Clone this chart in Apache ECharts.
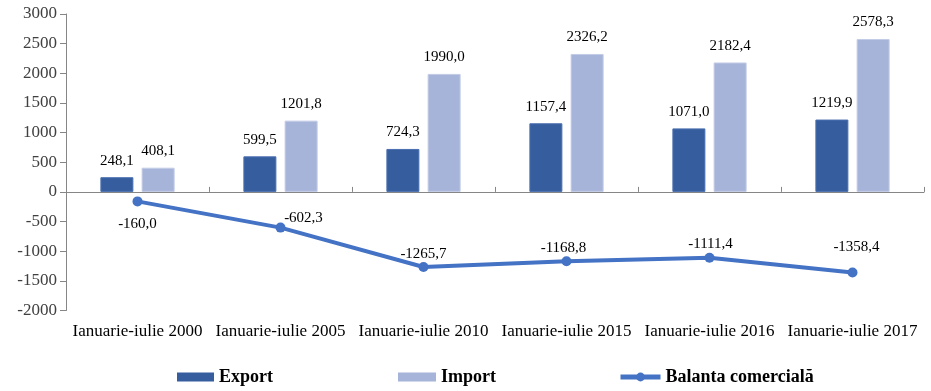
<!DOCTYPE html>
<html>
<head>
<meta charset="utf-8">
<script src="https://cdn.jsdelivr.net/npm/echarts@6/dist/echarts.min.js"></script>
<style>html,body{margin:0;padding:0;background:#fff}#c{width:931px;height:391px}</style>
</head>
<body>
<div id="c"></div>
<script>
var categories = ["Ianuarie-iulie 2000","Ianuarie-iulie 2005","Ianuarie-iulie 2010","Ianuarie-iulie 2015","Ianuarie-iulie 2016","Ianuarie-iulie 2017"];
var exportValues = [248.1, 599.5, 724.3, 1157.4, 1071.0, 1219.9];
var importValues = [408.1, 1201.8, 1990.0, 2326.2, 2182.4, 2578.3];
var balantaValues = [-160.0, -602.3, -1265.7, -1168.8, -1111.4, -1358.4];
var seriesNames = ["Export", "Import", "Balanta comercială"];

var FONT = '"Liberation Serif", "Times New Roman", serif';
function fmt(v){ return v.toFixed(1).replace('.', ','); }

// label placement for the line points (style only)
var lineLabelCfg = [
  {position:'bottom', distance:10, offset:[0,0]},
  {position:'top', distance:-3, offset:[23,0]},
  {position:'top', distance:0, offset:[0,0]},
  {position:'top', distance:1, offset:[-3,0]},
  {position:'top', distance:1, offset:[1,0]},
  {position:'top', distance:13, offset:[4,0]}
];

var legendText = {fontSize:18, fontWeight:'bold', color:'#000', fontFamily:FONT};

var chart = echarts.init(document.getElementById('c'), null, {renderer:'canvas'});
var option = {
  animation:false,
  textStyle:{fontFamily:FONT},
  grid:{left:66, right:7, top:14, bottom:80.5, containLabel:false},
  xAxis:[{
    type:'category', data:categories, boundaryGap:true,
    axisLine:{onZero:true, lineStyle:{color:'#868686', width:1}},
    axisTick:{show:true, inside:true, length:5, alignWithLabel:false, lineStyle:{color:'#868686'}},
    axisLabel:{show:false}, splitLine:{show:false}
  },{
    type:'category', data:categories, position:'bottom', boundaryGap:true,
    axisLine:{show:false, onZero:false}, axisTick:{show:false},
    axisLabel:{show:true, interval:0, margin:13, fontSize:17, color:'#000', fontFamily:FONT},
    splitLine:{show:false}
  }],
  yAxis:{
    type:'value', min:-2000, max:3000, interval:500,
    axisLine:{show:true, lineStyle:{color:'#868686'}},
    axisTick:{show:true, inside:false, length:6, lineStyle:{color:'#868686'}},
    axisLabel:{fontSize:17, color:'#404040', margin:9, fontFamily:FONT,
               formatter:function(v){return String(v);}},
    splitLine:{show:false}
  },
  legend:[
    {data:[{name:seriesNames[0], icon:'rect'}], left:177, top:368, padding:0, itemWidth:37, itemHeight:9, itemGap:0,
     itemStyle:{borderWidth:0}, textStyle:legendText},
    {data:[{name:seriesNames[1], icon:'rect'}], left:398, top:368, padding:0, itemWidth:38, itemHeight:9, itemGap:0,
     itemStyle:{borderWidth:0}, textStyle:legendText},
    {data:[seriesNames[2]], left:618, top:368, padding:0, itemWidth:40, itemHeight:11, itemGap:0,
     lineStyle:{width:5}, textStyle:legendText}
  ],
  series:[
    {name:seriesNames[0], type:'bar', data:exportValues, barWidth:33, barGap:'25%',
     itemStyle:{color:'#365E9F', borderColor:'#4A6FB0', borderWidth:1},
     label:{show:true, position:'top', distance:9, fontSize:15, color:'#000', fontFamily:FONT,
            formatter:function(p){return fmt(p.value);}}},
    {name:seriesNames[1], type:'bar', data:importValues, barWidth:33, barGap:'25%',
     itemStyle:{color:'#A7B4D9', borderColor:'#C3CCE6', borderWidth:1},
     label:{show:true, position:'top', distance:9, fontSize:15, color:'#000', fontFamily:FONT,
            formatter:function(p){return fmt(p.value);}}},
    {name:seriesNames[2], type:'line', z:5,
     data:balantaValues.map(function(v,i){
       var c = lineLabelCfg[i];
       return {value:v, label:{position:c.position, distance:c.distance, offset:c.offset}};
     }),
     symbol:'circle', symbolSize:10,
     lineStyle:{color:'#4472C4', width:4},
     itemStyle:{color:'#4472C4'},
     label:{show:true, fontSize:15, color:'#000', fontFamily:FONT,
            formatter:function(p){return fmt(p.value);}}}
  ]
};
chart.setOption(option);
</script>
</body>
</html>
